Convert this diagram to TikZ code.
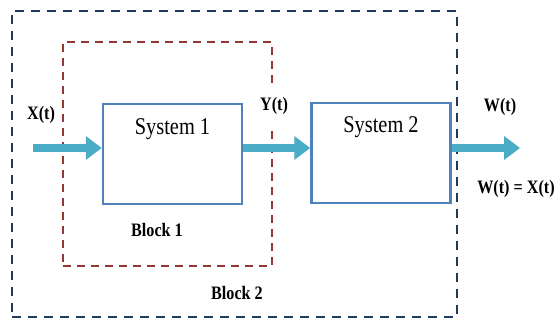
\documentclass[tikz,border=0pt]{standalone}
\usepackage{fontspec}
\setmainfont{Liberation Serif}[FakeStretch=0.85]
\usetikzlibrary{arrows.meta}
\definecolor{navy}{HTML}{1F3A5F}
\definecolor{brick}{HTML}{953735}
\definecolor{boxblue}{HTML}{4F81BD}
\definecolor{teal}{HTML}{4BACC6}
\tikzset{
  outerbox/.style={draw=navy, line width=2.4pt, dash pattern=on 9pt off 7pt, minimum width=445pt, minimum height=306pt, inner sep=0pt},
  innerbox/.style={draw=brick, line width=2pt, dash pattern=on 8pt off 6pt, minimum width=209pt, minimum height=224pt, inner sep=0pt},
  sysbox/.style={draw=boxblue, line width=2.5pt, minimum width=139pt, minimum height=100pt, inner sep=0pt},
  systext/.style={font=\fontsize{24}{28}\selectfont, anchor=center},
  lbl/.style={font=\bfseries\fontsize{19}{22}\selectfont, inner sep=1pt},
  flow/.style={draw=teal, line width=8pt, -{Triangle[length=16pt,width=23pt]}}
}
\begin{document}
\begin{tikzpicture}[x=1pt,y=-1pt]
\useasboundingbox (0,0) rectangle (557,320);
\node[outerbox] (outer) at (234.5,164) {};
\node[innerbox] (inner) at (167.5,154) {};
\node[sysbox] (s1) at (172.5,154) {};
\node[sysbox] (s2) at (381,153) {};
\node[systext] (t1) at (172.5,129) {System 1};
\node[systext] (t2) at (381,127) {System 2};
\node[lbl, fill=white, inner ysep=10pt] (y) at (274,106) {Y(t)};
\coordinate (in) at (33,148);
\coordinate (out) at (520,148);
\draw[flow] (in) -- (in -| s1.west);
\draw[flow] (s1.east |- in) -- (s2.west |- in);
\draw[flow] (s2.east |- in) -- (out);
\node[lbl] (x) at (41,115) {X(t)};
\node[lbl] (w) at (500,107) {W(t)};
\node[lbl] (wx) at (516,189) {W(t) = X(t)};
\node[lbl] (b1) at (157,230) {Block 1};
\node[lbl] (b2) at (237,293) {Block 2};
\end{tikzpicture}
\end{document}
